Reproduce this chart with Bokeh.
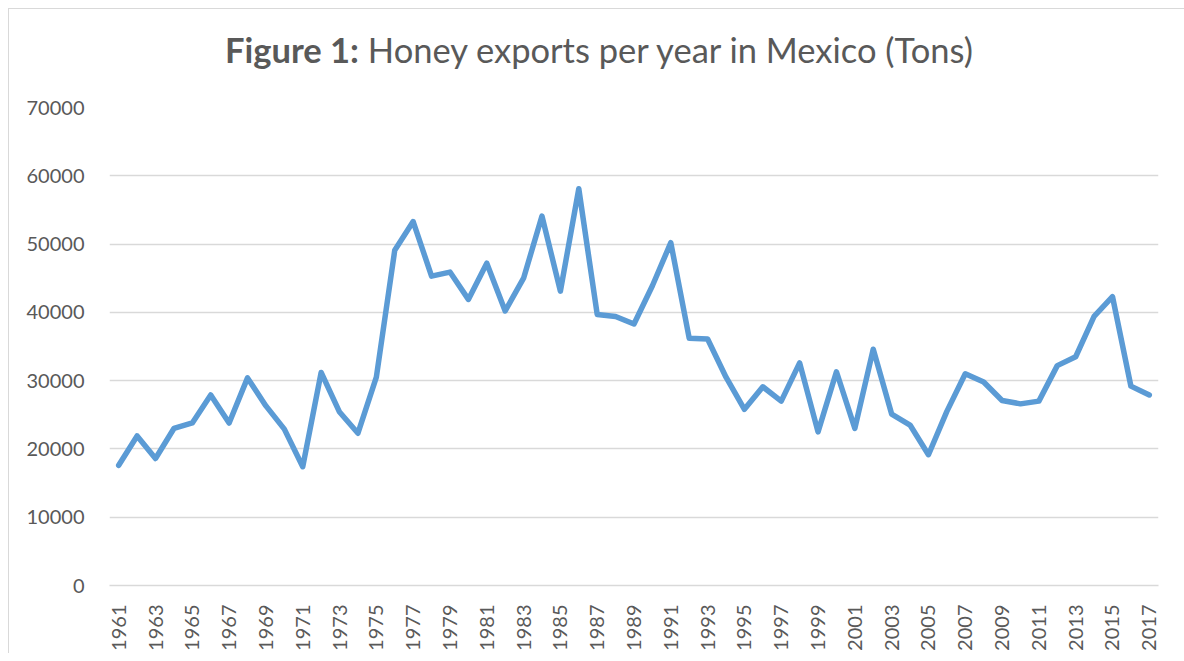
from bokeh.plotting import figure
from bokeh.models import Range1d, FixedTicker, ColumnDataSource, Div
from bokeh.layouts import column
from bokeh.embed import file_html
from bokeh.resources import INLINE
import math

years = list(range(1961, 2018))
exports = [
    17600, 21900, 18600, 23000, 23800, 27900, 23800, 30400, 26300, 22900,
    17400, 31200, 25400, 22300, 30500, 49100, 53300, 45300, 45900, 41900,
    47200, 40200, 45000, 54100, 43100, 58100, 39700, 39400, 38300, 43900,
    50200, 36200, 36100, 30500, 25800, 29100, 27000, 32600, 22500, 31300,
    23000, 34600, 25100, 23500, 19150, 25500, 31000, 29800, 27100, 26600,
    27000, 32200, 33500, 39400, 42300, 29200, 27900,
]
x_tick_years = years[::2]
y_ticks = [0, 10000, 20000, 30000, 40000, 50000, 60000, 70000]
title_bold = "Figure 1:"
title_rest = "Honey exports per year in Mexico (Tons)"

TEXT = "#595959"
GRID = "#d9d9d9"
LINE = "#5b9bd5"
FONT = "Lato"

p = figure(
    width=1175, height=584,
    output_backend="svg", toolbar_location=None,
    x_range=Range1d(years[0] - 0.5, years[-1] + 0.5),
    y_range=Range1d(0, 70000),
    min_border_left=100, min_border_right=26,
    min_border_top=38, min_border_bottom=64,
)
p.margin = 0
p.outline_line_color = None
p.background_fill_color = "white"
p.border_fill_color = "white"

src = ColumnDataSource(dict(year=years, tons=exports))
p.line("year", "tons", source=src, line_color=LINE, line_width=5.5,
       line_join="round", line_cap="round")

p.xgrid.grid_line_color = None
p.ygrid.grid_line_color = GRID
p.ygrid.grid_line_width = 1.5

p.xaxis.ticker = FixedTicker(ticks=x_tick_years)
p.xaxis.major_label_orientation = math.pi / 2
p.xaxis.axis_line_color = GRID
p.xaxis.axis_line_width = 1.5
p.xaxis.major_tick_line_color = None
p.xaxis.minor_tick_line_color = None
p.xaxis.major_label_standoff = 13
p.xaxis.major_label_text_font = FONT
p.xaxis.major_label_text_font_size = "20px"
p.xaxis.major_label_text_color = TEXT

p.yaxis.ticker = FixedTicker(ticks=y_ticks)
p.yaxis.axis_line_color = None
p.yaxis.major_tick_line_color = None
p.yaxis.minor_tick_line_color = None
p.yaxis.major_label_standoff = 19
p.yaxis.major_label_text_font = FONT
p.yaxis.major_label_text_font_size = "20px"
p.yaxis.major_label_text_color = TEXT

title_html = (
    '<div style="padding-top:20px; padding-left:216px; white-space:nowrap; '
    'font-family:Lato; font-size:34.5px; line-height:1.2; color:%s;">'
    '<b>%s</b> %s</div>' % (TEXT, title_bold, title_rest)
)
title = Div(text=title_html, width=1175, height=60, margin=0)

layout = column(
    title, p, spacing=0,
    styles={"margin-left": "8px", "margin-top": "8px",
            "border-top": "1px solid #d9d9d9",
            "border-left": "1px solid #d9d9d9",
            "background-color": "white"},
)

open("out.html", "w").write(file_html(layout, INLINE))
